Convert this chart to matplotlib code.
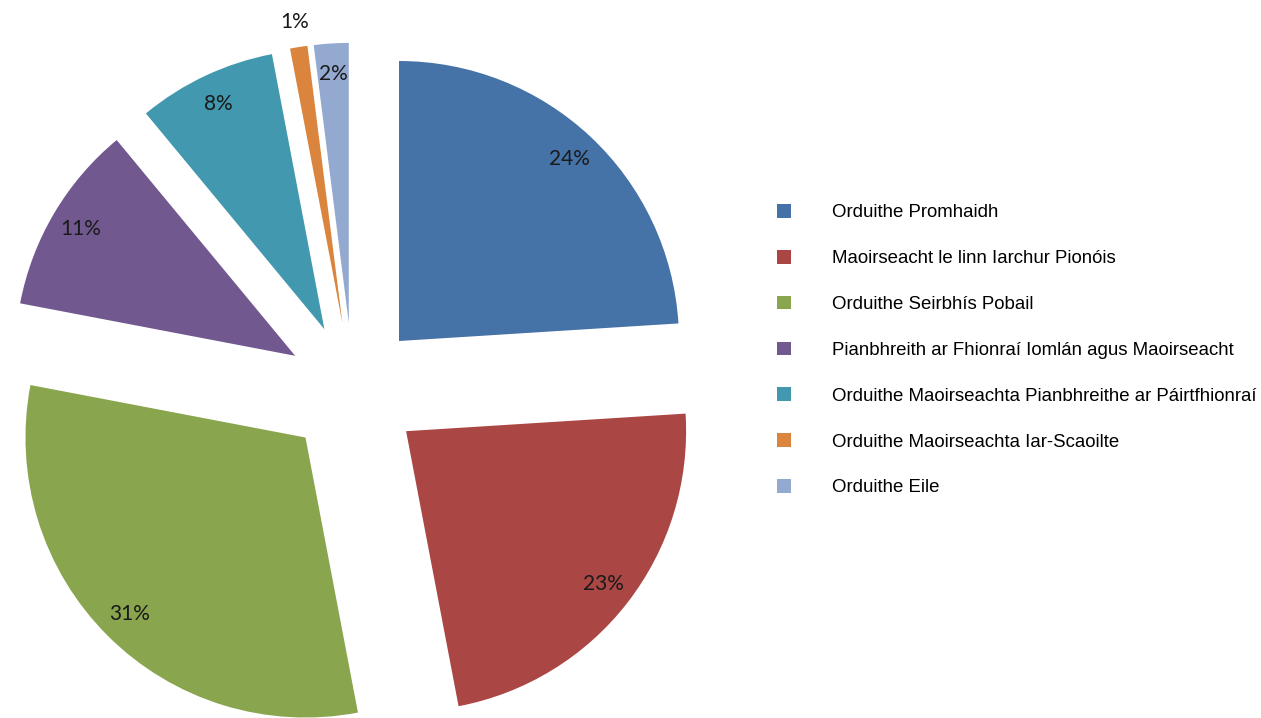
import numpy as np
import matplotlib.pyplot as plt

# Dáileadh na n-orduithe (%)
labels = ['Orduithe Promhaidh',
          'Maoirseacht le linn Iarchur Pionóis',
          'Orduithe Seirbhís Pobail',
          'Pianbhreith ar Fhionraí Iomlán agus Maoirseacht',
          'Orduithe Maoirseachta Pianbhreithe ar Páirtfhionraí',
          'Orduithe Maoirseachta Iar-Scaoilte',
          'Orduithe Eile']
values = [24, 23, 31, 11, 8, 1, 2]
colors = ['#4572A7', '#AA4643', '#89A54E', '#71588F', '#4198AF', '#DB843D', '#93A9CF']

W, H = 1261, 718
fig = plt.figure(figsize=(W / 100, H / 100), dpi=100)
ax = fig.add_axes([0, 0, 1, 1])

R = 280
# explode i n-aonaid sonraí (ní scálaítear le radius)
wedges, texts, autotexts = ax.pie(
    values, colors=colors, startangle=90, counterclock=False,
    explode=[0.24 * R] * len(values), radius=R, center=(353, 328),
    autopct=lambda p: '%.0f%%' % p, pctdistance=0.89,
    wedgeprops=dict(linewidth=0), frame=True,
    textprops=dict(fontsize=15, family=['Lato', 'DejaVu Sans'], color='#1a1a1a'))
ax.set_xlim(0, W)
ax.set_ylim(0, H)
ax.set_aspect('equal')
ax.axis('off')

# an lipéad beag taobh amuigh den slios
for w, t, v in zip(wedges, autotexts, values):
    if v < 2:
        mid = np.deg2rad((w.theta1 + w.theta2) / 2)
        cx, cy = w.center
        t.set_position((cx + 1.09 * R * np.cos(mid), cy + 1.09 * R * np.sin(mid)))

ax.legend(wedges, labels, loc='upper left',
          bbox_to_anchor=(777 / W, 1 - 204 / H), bbox_transform=fig.transFigure,
          frameon=False, borderpad=0, borderaxespad=0,
          prop=dict(family=['Liberation Sans', 'DejaVu Sans'], size=13.4),
          handlelength=0.76, handleheight=0.76, handletextpad=2.2,
          labelspacing=1.53)

plt.savefig('out.png', dpi=100)
